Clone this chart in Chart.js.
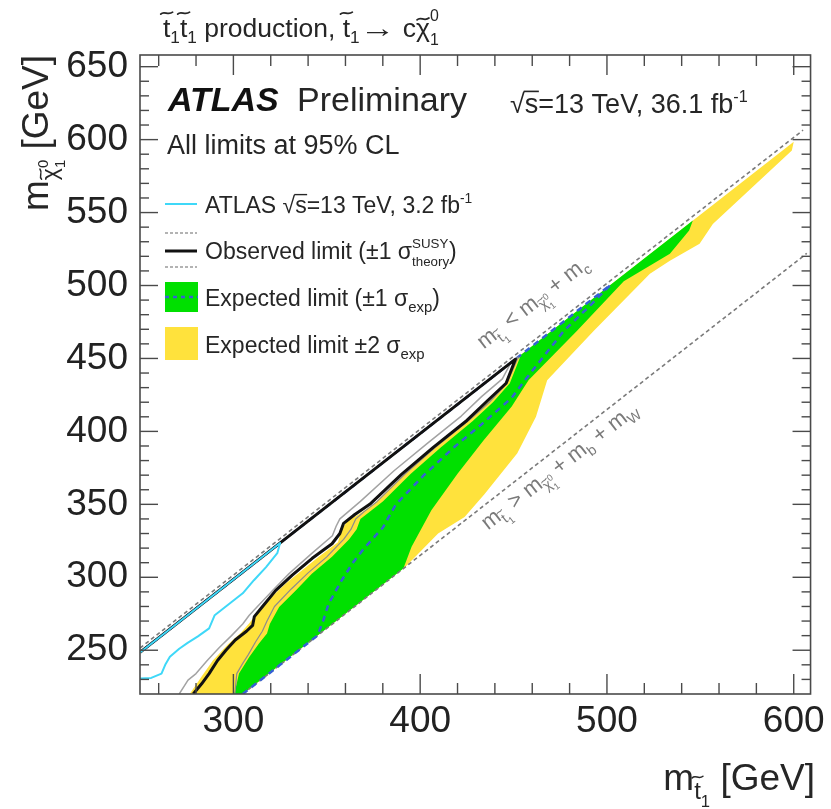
<!DOCTYPE html>
<html><head><meta charset="utf-8">
<script src="https://cdn.jsdelivr.net/npm/chart.js@4.4.1/dist/chart.umd.min.js"></script>
<style>html,body{margin:0;padding:0;background:#fff;}canvas{display:block;}</style>
</head><body>
<canvas id="c" width="831" height="809"></canvas>
<script>
// ---------------- data (GeV) ----------------
const xTicks = [300, 400, 500, 600];
const yTicks = [250, 300, 350, 400, 450, 500, 550, 600, 650];

// kinematic limits
const kinUpperX = [250, 605];
const kinUpperY = [251.5, 606.5];
const kinLowerX = [305, 607];
const kinLowerY = [220, 522];

// ATLAS 13 TeV 3.2 fb-1 limit
const prevX = [250, 256, 261.5, 263.5, 266, 271, 275.5, 281, 287, 290, 298, 305, 311, 317.5, 323.5, 325, 250];
const prevY = [230.6, 231, 234, 240, 245.5, 251, 255, 259.5, 265, 274, 282, 289, 298, 307, 316.5, 323.5, 248.5];

// observed limit
const obsX = [278.5, 283, 287, 291.5, 296, 301, 307, 310.3, 311.2, 315.6, 322.7, 331.5, 342.2, 352.8, 357, 359, 365, 373, 390, 407, 425, 436, 446, 451, 250];
const obsY = [220, 227, 234, 243, 250, 257, 263, 267, 273, 280, 291, 301.5, 313, 323, 330, 337, 343, 350, 370.5, 389, 407.5, 421, 433, 449.5, 248.5];

// observed +1 sigma theory
const thUpX = [271, 275.7, 280, 286, 292.6, 299, 305, 308.5, 311, 321, 329.8, 342, 353, 355, 357, 368, 386, 404, 422, 433, 444, 448.5, 250];
const thUpY = [220, 229.5, 234, 243, 252, 260, 268, 274, 277.4, 291, 302.5, 316.4, 328.5, 335, 340, 352, 373, 392, 410.5, 424, 436, 447, 248.5];

// observed -1 sigma theory
const thDnX = [300.8, 301.8, 305, 308, 312, 315.5, 318, 322, 331, 340, 350, 359, 363, 365.5, 370, 377, 392, 408, 425.5, 437, 446.5, 452.5, 250];
const thDnY = [220, 234, 241, 247, 256, 263, 270, 280, 292, 303, 314, 326, 333, 340, 345, 352, 371, 389, 407, 420, 433, 451, 248.5];

// expected limit
const expX = [305, 325, 340, 345, 348, 351, 358, 364, 370.6, 380, 387, 402, 418, 433, 449, 456, 477, 490, 502, 250];
const expY = [220, 240, 255, 260, 270, 282, 298, 310, 320.8, 334, 350, 370, 389, 405, 423, 435, 469, 485, 500.5, 248.5];

// expected +-1 sigma band (closed contour)
const band1X = [300.5, 303, 308.5, 313.8, 318, 319.5, 324.5, 333.4, 342, 352.8, 362, 366, 368, 373, 380, 395, 411, 428, 439, 448, 454,
                546, 544, 533.7, 509, 484, 458, 449, 434, 420, 406, 395.4, 391, 305, 300.5];
const band1Y = [220, 234, 245.4, 254.8, 261.4, 268, 279.7, 291, 302.5, 314, 326, 333, 340, 345, 352, 371, 389, 407, 420, 433, 452.5,
                544.5, 537.7, 521.7, 503, 469, 435, 417, 394, 371, 346, 321, 306, 220, 220];

// expected +-2 sigma band (closed contour)
const band2X = [276.6, 283, 289, 297, 304, 308.5, 313.8, 320, 328, 345.7, 356, 358, 361, 367, 375, 391, 408, 425.5, 436.5, 446.5, 452,
                600, 599, 556.7, 549.6, 533.7, 523, 493, 468, 462, 452, 434.4, 423.8, 409.6, 392, 305, 276.6];
const band2Y = [220, 232, 243, 254, 262, 268.5, 277.4, 286, 295.7, 314, 324, 333, 338.5, 343, 350, 370, 389, 407, 420.5, 432.5, 450.5,
                598.5, 592.5, 542.2, 528.6, 517, 508, 469, 435, 410, 385, 357, 341.3, 330, 307, 220, 220];

// ---------------- helpers ----------------
const FONT = '"Liberation Sans", Arimo, Arial, Helvetica, sans-serif';
function pts(xs, ys) { return xs.map((x, i) => ({x: x, y: ys[i]})); }
function T(t, o) { return Object.assign({t: t}, o || {}); }
function sub(t, o) { return T(t, Object.assign({s: 0.65, dy: 0.22}, o || {})); }
function sup(t, o) { return T(t, Object.assign({s: 0.6, dy: -0.42}, o || {})); }
function fontStr(sz, p) { return (p.italic ? 'italic ' : '') + (p.bold ? 'bold ' : '') + sz.toFixed(2) + 'px ' + FONT; }

function drawTilde(ctx, cx, cy, w, h, lw) {
  const x0 = cx - w / 2;
  ctx.save();
  ctx.lineWidth = lw; ctx.lineCap = 'round';
  ctx.beginPath();
  ctx.moveTo(x0, cy + h * 0.4);
  ctx.bezierCurveTo(x0 + w * 0.3, cy - h * 1.2, x0 + w * 0.6, cy + h * 1.2, x0 + w, cy - h * 0.4);
  ctx.stroke();
  ctx.restore();
}

function layoutRich(ctx, parts, size) {
  const items = []; let x = 0;
  for (const p of parts) {
    if (p.stack) {
      const s = size * (p.ss || 0.6);
      ctx.font = fontStr(s, {});
      const w1 = ctx.measureText(p.stack[0]).width, w2 = ctx.measureText(p.stack[1]).width;
      items.push({kind: 'stack', x: x, s: s, a: p.stack[0], b: p.stack[1],
                  ady: -size * (p.up === undefined ? 0.45 : p.up), bdy: size * (p.down === undefined ? 0.28 : p.down)});
      x += Math.max(w1, w2);
      continue;
    }
    const s = size * (p.s || 1);
    ctx.font = fontStr(s, p);
    const w = ctx.measureText(p.t).width * (p.sx || 1);
    items.push({kind: 't', x: x, s: s, t: p.t, dy: size * (p.dy || 0), p: p, w: w});
    x += w;
  }
  return {items: items, width: x};
}

function drawRich(ctx, parts, x, y, size, color, align) {
  const L = layoutRich(ctx, parts, size);
  const x0 = align === 'right' ? x - L.width : (align === 'center' ? x - L.width / 2 : x);
  ctx.save();
  ctx.fillStyle = color; ctx.strokeStyle = color;
  ctx.textBaseline = 'alphabetic'; ctx.textAlign = 'left';
  for (const it of L.items) {
    if (it.kind === 'stack') {
      ctx.font = fontStr(it.s, {});
      ctx.fillText(it.a, x0 + it.x, y + it.ady);
      ctx.fillText(it.b, x0 + it.x, y + it.bdy);
    } else {
      ctx.font = fontStr(it.s, it.p);
      if (it.p.sx) {
        ctx.save(); ctx.translate(x0 + it.x, y + it.dy); ctx.scale(it.p.sx, 1);
        ctx.fillText(it.t, 0, 0); ctx.restore();
      } else {
        ctx.fillText(it.t, x0 + it.x, y + it.dy);
      }
      if (it.p.tilde) {
        drawTilde(ctx, x0 + it.x + it.w / 2 + (it.p.tx || 0) * it.s, y + it.dy - it.s * it.p.tilde,
                  it.s * 0.45, it.s * 0.09, Math.max(1, it.s * 0.065));
      }
      if (it.p.over) {
        const yy = y + it.dy - it.s * 0.8;
        ctx.lineWidth = Math.max(1, it.s * 0.06);
        ctx.beginPath(); ctx.moveTo(x0 + it.x - it.s * 0.04, yy); ctx.lineTo(x0 + it.x + it.w + it.s * 0.02, yy); ctx.stroke();
      }
    }
  }
  ctx.restore();
  return L.width;
}

function seg(ctx, x1, y1, x2, y2) { ctx.beginPath(); ctx.moveTo(x1, y1); ctx.lineTo(x2, y2); ctx.stroke(); }

function diagText(ctx, xs, ys, parts, xd, yd, off, size, color) {
  const px = xs.getPixelForValue(xd), py = ys.getPixelForValue(yd);
  const ang = Math.atan2(ys.getPixelForValue(yd + 100) - py, xs.getPixelForValue(xd + 100) - px);
  const nx = Math.sin(ang), ny = -Math.cos(ang);
  ctx.save();
  ctx.translate(px + nx * off, py + ny * off);
  ctx.rotate(ang);
  drawRich(ctx, parts, 0, 0, size, color, 'left');
  ctx.restore();
}

// ---------------- plugin: frame, inward ticks, texts, legend ----------------
const decor = {
  id: 'decor',
  afterDatasetsDraw(chart) {
    const ctx = chart.ctx, a = chart.chartArea, xs = chart.scales.x, ys = chart.scales.y;
    ctx.save();
    ctx.strokeStyle = '#4a4a4a';
    ctx.lineWidth = 1.6;
    ctx.strokeRect(a.left, a.top, a.right - a.left, a.bottom - a.top);
    ctx.lineWidth = 1.4;
    for (let v = 260; v < xs.max; v += 20) {
      const major = xTicks.indexOf(v) >= 0;
      const p = xs.getPixelForValue(v);
      const L = major ? 20 : 11;
      seg(ctx, p, a.bottom, p, a.bottom - L);
      seg(ctx, p, a.top, p, a.top + L);
    }
    for (let v = 230; v < ys.max; v += 10) {
      const major = yTicks.indexOf(v) >= 0;
      const p = ys.getPixelForValue(v);
      const L = major ? 18 : 9;
      seg(ctx, a.left, p, a.left + L, p);
      seg(ctx, a.right, p, a.right - L, p);
    }
    ctx.restore();

    // diagonal annotations
    const tsub = [T('m'), T('t', {s: 0.65, dy: 0.25, tilde: 0.92}), T('1', {s: 0.45, dy: 0.45})];
    const chisub = [T('\u03C7', {s: 0.65, dy: 0.25, tilde: 0.72}), {stack: ['0', '1'], ss: 0.42, up: 0.02, down: 0.48}];
    diagText(ctx, xs, ys, tsub.concat([T(' < m')], chisub, [T(' + m'), T('c', {s: 0.65, dy: 0.25})]),
             443, 441.5, 27, 22, '#7a7a7a');
    diagText(ctx, xs, ys, tsub.concat([T(' > m')], chisub, [T(' + m'), T('b', {s: 0.65, dy: 0.25}), T(' + m'), T('W', {s: 0.65, dy: 0.25})]),
             429, 344, -22, 22, '#7a7a7a');
  },
  afterDraw(chart) {
    const ctx = chart.ctx;
    const col = '#262626';
    // title above the frame
    drawRich(ctx, [T('t', {tilde: 0.9}), sub('1'), T('t', {tilde: 0.9}), sub('1'), T(' production, '),
                   T('t', {tilde: 0.9}), sub('1'), T('\u2192', {sx: 1.35}), T(' c'), T('\u03C7', {tilde: 0.68}), {stack: ['0', '1'], ss: 0.6, up: 0.62, down: 0.3}],
             163, 37, 26.5, col, 'left');
    // ATLAS label
    drawRich(ctx, [T('ATLAS', {bold: true, italic: true})], 168, 111, 34, '#111', 'left');
    drawRich(ctx, [T('Preliminary')], 297, 111, 34, col, 'left');
    drawRich(ctx, [T('\u221A'), T('s', {over: true}), T('=13 TeV, 36.1 fb'), sup('-1')], 510, 113, 27, col, 'left');
    drawRich(ctx, [T('All limits at 95% CL')], 167, 154, 27, col, 'left');

    // legend
    const fs = 23, tx = 205;
    ctx.save();
    ctx.lineCap = 'butt';
    ctx.strokeStyle = '#3fd8f8'; ctx.lineWidth = 2; seg(ctx, 165, 204, 197, 204);
    ctx.strokeStyle = '#9a9a9a'; ctx.lineWidth = 1.5; ctx.setLineDash([3, 2]);
    seg(ctx, 165, 233, 197, 233); seg(ctx, 165, 267, 197, 267);
    ctx.setLineDash([]);
    ctx.strokeStyle = '#111'; ctx.lineWidth = 3; seg(ctx, 165, 251, 197, 251);
    ctx.fillStyle = '#00e000'; ctx.fillRect(165, 282, 33, 30);
    ctx.strokeStyle = '#3561d3'; ctx.lineWidth = 2.5; ctx.setLineDash([4, 4]); seg(ctx, 165, 297, 198, 297);
    ctx.setLineDash([]);
    ctx.fillStyle = '#ffe23c'; ctx.fillRect(165, 327, 33, 33);
    ctx.restore();
    drawRich(ctx, [T('ATLAS '), T('\u221A'), T('s', {over: true}), T('=13 TeV, 3.2 fb'), sup('-1')], tx, 213, fs, col, 'left');
    drawRich(ctx, [T('Observed limit (\u00B11 '), T('\u03C3'), {stack: ['SUSY', 'theory'], ss: 0.58, up: 0.5, down: 0.32}, T(')')], tx, 259, fs, col, 'left');
    drawRich(ctx, [T('Expected limit (\u00B11 '), T('\u03C3'), sub('exp', {dy: 0.28}), T(')')], tx, 306, fs, col, 'left');
    drawRich(ctx, [T('Expected limit \u00B12 '), T('\u03C3'), sub('exp', {dy: 0.28})], tx, 353, fs, col, 'left');

    // axis titles
    drawRich(ctx, [T('m'), T('t', {s: 0.65, dy: 0.25, tilde: 0.92}), T('1', {s: 0.45, dy: 0.47}), T(' [GeV]')],
             815, 790, 37, col, 'right');
    ctx.save();
    ctx.translate(48, 55);
    ctx.rotate(-Math.PI / 2);
    drawRich(ctx, [T('m'), T('\u03C7', {s: 0.62, dy: 0.25, tilde: 0.72}), {stack: ['0', '1'], ss: 0.4, up: 0.0, down: 0.47}, T(' [GeV]')],
             0, 0, 37, col, 'right');
    ctx.restore();
  }
};

// ---------------- chart ----------------
const line = (data, color, width, dash, order) => ({
  data: data, showLine: true, borderColor: color, borderWidth: width, borderDash: dash || [],
  pointRadius: 0, fill: false, order: order, borderJoinStyle: 'round'
});

new Chart(document.getElementById('c').getContext('2d'), {
  type: 'scatter',
  data: {
    datasets: [
      Object.assign(line(pts(prevX, prevY), '#3fd8f8', 2, null, 0), {label: 'ATLAS 3.2 fb-1'}),
      Object.assign(line(pts(obsX, obsY), '#111111', 3, null, 1), {label: 'Observed'}),
      Object.assign(line(pts(thUpX, thUpY), '#a3a3a3', 1.5, null, 2), {label: 'Theory +1'}),
      Object.assign(line(pts(thDnX, thDnY), '#8c8c8c', 1.2, null, 3), {label: 'Theory -1'}),
      Object.assign(line(pts(expX, expY), '#3561d3', 2.5, [6, 5], 4), {label: 'Expected'}),
      Object.assign(line(pts(kinUpperX, kinUpperY), '#7a7a7a', 1.6, [4, 3], 5), {label: 'kin upper'}),
      Object.assign(line(pts(kinLowerX, kinLowerY), '#7a7a7a', 1.6, [4, 3], 6), {label: 'kin lower'}),
      {label: 'Expected ±1σ', data: pts(band1X, band1Y), showLine: true, fill: 'shape', backgroundColor: '#00e000',
       borderWidth: 0, borderColor: 'rgba(0,0,0,0)', pointRadius: 0, order: 7},
      {label: 'Expected ±2σ', data: pts(band2X, band2Y), showLine: true, fill: 'shape', backgroundColor: '#ffe23c',
       borderWidth: 0, borderColor: 'rgba(0,0,0,0)', pointRadius: 0, order: 8}
    ]
  },
  options: {
    responsive: false, animation: false, devicePixelRatio: 1, events: [],
    layout: {padding: {top: 55, right: 16, left: 0, bottom: 0}},
    plugins: {legend: {display: false}, tooltip: {enabled: false}, title: {display: false}},
    scales: {
      x: {
        type: 'linear', position: 'bottom', min: 250, max: 609,
        afterBuildTicks: s => { s.ticks = xTicks.map(v => ({value: v})); },
        afterFit: s => { s.height = 115; },
        ticks: {font: {family: FONT, size: 37}, color: '#222', padding: 6, maxRotation: 0, autoSkip: false},
        grid: {display: false, drawTicks: false}, border: {display: false}
      },
      y: {
        type: 'linear', position: 'left', min: 220, max: 658,
        afterBuildTicks: s => { s.ticks = yTicks.map(v => ({value: v})); },
        afterFit: s => { s.width = 140; },
        ticks: {font: {family: FONT, size: 37}, color: '#222', padding: 12, autoSkip: false},
        grid: {display: false, drawTicks: false}, border: {display: false}
      }
    }
  },
  plugins: [decor]
});
</script>
</body></html>
